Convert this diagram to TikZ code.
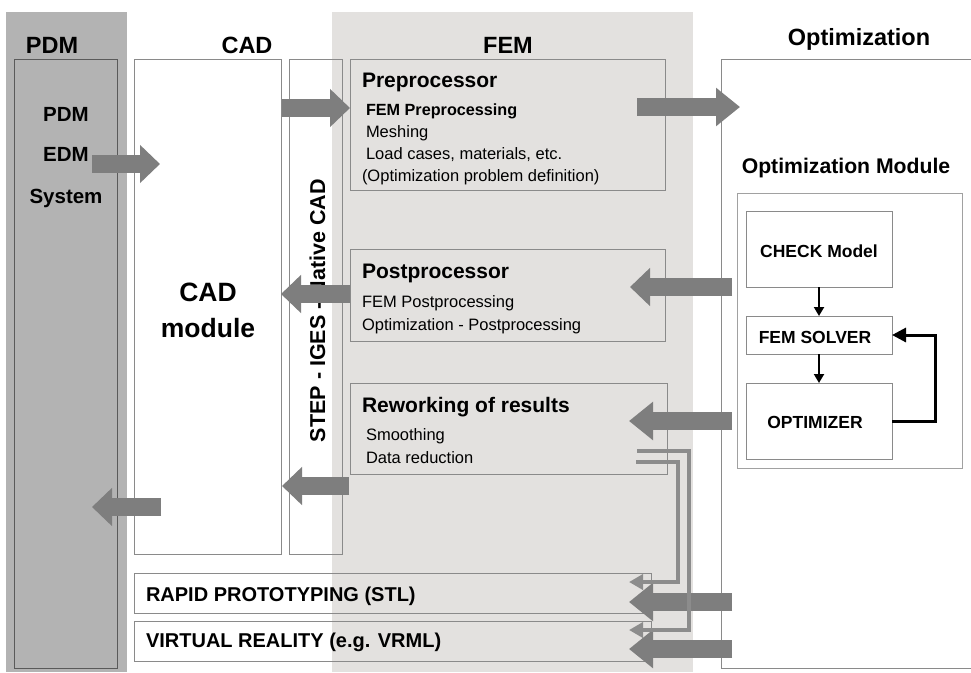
\documentclass[tikz,border=0pt]{standalone}
\usepackage{fontspec}
\setmainfont{Liberation Sans}
\usetikzlibrary{arrows.meta}
\definecolor{pdmgray}{HTML}{B3B3B3}
\definecolor{femgray}{HTML}{E3E1DF}
\definecolor{arrowgray}{HTML}{7E7E7E}
\definecolor{thingray}{HTML}{8C8C8C}
\definecolor{boxline}{HTML}{8A8A8A}
\definecolor{pdmline}{HTML}{5A5A5A}
\newcommand{\fsz}[1]{\fontsize{#1}{#1}\selectfont}
\begin{document}
\begin{tikzpicture}[x=1pt,y=-1pt,
  box/.style={draw=boxline, line width=1pt, inner sep=0pt, outer sep=0pt, anchor=north west},
  fat/.style={draw=arrowgray, line width=18pt, -{Triangle[length=20pt,width=37pt]}},
  fatlong/.style={draw=arrowgray, line width=18pt, -{Triangle[length=24pt,width=37pt]}},
  thinarrow/.style={draw=thingray, line width=4pt, line join=miter, -{Triangle[length=14pt,width=15pt]}},
  blk/.style={draw=black, line width=2pt, -{Triangle[length=9pt,width=10pt]}},
  fbk/.style={draw=black, line width=3pt, line join=miter, -{Triangle[length=14pt,width=14pt]}},
  txt/.style={inner sep=0pt, outer sep=0pt, anchor=base west},
  ctxt/.style={inner sep=0pt, outer sep=0pt, anchor=base},
  title/.style={ctxt, font=\fsz{23.5}\bfseries},
  sect/.style={txt, font=\fsz{21}\bfseries},
  sub/.style={txt, font=\fsz{16.5}},
  optb/.style={ctxt, font=\fsz{17.5}\bfseries}]
\useasboundingbox (0,0) rectangle (971,672);
\fill[white] (0,0) rectangle (971,672);
% bands
\fill[pdmgray] (6,12) rectangle (127,672);
\fill[femgray] (332,12) rectangle (693,672);
% boxes
\node[box, draw=pdmline, minimum width=103pt, minimum height=609pt] (pdmin) at (14,59) {};
\node[box, minimum width=147pt, minimum height=495pt] (cad) at (134,59) {};
\node[box, minimum width=53pt, minimum height=495pt] (step) at (289,59) {};
\node[box, minimum width=315pt, minimum height=131pt] (pre) at (350,59) {};
\node[box, minimum width=315pt, minimum height=92pt] (post) at (350,249) {};
\node[box, minimum width=317pt, minimum height=91pt] (rew) at (350,383) {};
\node[box, minimum width=517pt, minimum height=40pt] (rp) at (134,573) {};
\node[box, minimum width=517pt, minimum height=40pt] (vr) at (134,621) {};
\node[box, minimum width=270pt, minimum height=609pt] (opt) at (721,59) {};
\node[box, draw=boxline!80, minimum width=225pt, minimum height=275pt] (mod) at (737,193) {};
\node[box, fill=white, minimum width=146pt, minimum height=76pt] (check) at (746,211) {};
\node[box, fill=white, minimum width=146pt, minimum height=38pt] (solver) at (746,316) {};
\node[box, fill=white, minimum width=146pt, minimum height=76pt] (optim) at (746,383) {};
% titles
\node[title] (tpdm) at (52,53) {PDM};
\node[title] (tcad) at (247,53) {CAD};
\node[title] (tfem) at (508,53) {FEM};
\node[title] (topt) at (859,45) {Optimization};
% PDM texts
\node[ctxt, font=\fsz{20.5}\bfseries] (p1) at (66,121) {PDM};
\node[ctxt, font=\fsz{20.5}\bfseries] (p2) at (66,161) {EDM};
\node[ctxt, font=\fsz{20.5}\bfseries] (p3) at (66,203) {System};
% CAD module
\node[ctxt, font=\fsz{26.5}\bfseries] (c1) at (208,301) {CAD};
\node[ctxt, font=\fsz{26.5}\bfseries] (c2) at (208,337) {module};
\node[inner sep=0pt, outer sep=0pt, anchor=base west, rotate=90, font=\fsz{21.5}\bfseries] (steptxt) at (325,442) {STEP - IGES - Native CAD};
% FEM texts
\node[sect] (t1) at (362,87) {Preprocessor};
\node[txt, font=\fsz{16.2}\bfseries] (t2) at (366,115) {FEM Preprocessing};
\node[sub] (t3) at (366,137) {Meshing};
\node[sub] (t4) at (366,159) {Load cases, materials, etc.};
\node[sub] (t5) at (362,181) {(Optimization problem definition)};
\node[sect] (t6) at (362,278) {Postprocessor};
\node[sub] (t7) at (362,307) {FEM Postprocessing};
\node[sub] (t8) at (362,330) {Optimization - Postprocessing};
\node[sect] (t9) at (362,412) {Reworking of results};
\node[sub] (t10) at (366,440) {Smoothing};
\node[sub] (t11) at (366,463) {Data reduction};
% Optimization texts
\node[ctxt, font=\fsz{21.2}\bfseries] (tmod) at (846,173) {Optimization Module};
\node[optb] (o1) at (819,257) {CHECK Model};
\node[optb] (o2) at (815,343) {FEM SOLVER};
\node[optb] (o3) at (815,428) {OPTIMIZER};
% bottom boxes
\node[txt, font=\fsz{20}\bfseries] (r1) at (146,601) {RAPID PROTOTYPING (STL)};
\node[txt, font=\fsz{20}\bfseries] (r2) at (146,647) {VIRTUAL REALITY (e.g. VRML)};
% coordinates for fat arrows
\coordinate (a1s) at (92,164);  \coordinate (a1e) at (160,164);
\coordinate (a2s) at (282,108); \coordinate (a2e) at (350,108);
\coordinate (a3s) at (637,107); \coordinate (a3e) at (740,107);
\coordinate (a4s) at (732,287); \coordinate (a4e) at (630,287);
\coordinate (a5s) at (350,294); \coordinate (a5e) at (281,294);
\coordinate (a6s) at (732,421); \coordinate (a6e) at (629,421);
\coordinate (a7s) at (349,486); \coordinate (a7e) at (282,486);
\coordinate (a8s) at (161,507); \coordinate (a8e) at (92,507);
\coordinate (a9s) at (732,602); \coordinate (a9e) at (629,602);
\coordinate (a10s) at (732,649); \coordinate (a10e) at (629,649);
\draw[fat] (a1s) -- (a1e);
\draw[fat] (a2s) -- (a2e);
\draw[fatlong] (a3s) -- (a3e);
\draw[fat] (a4s) -- (a4e);
\draw[fat] (a5s) -- (a5e);
\draw[fatlong] (a6s) -- (a6e);
\draw[fat] (a7s) -- (a7e);
\draw[fat] (a8s) -- (a8e);
\draw[fatlong] (a9s) -- (a9e);
\draw[fatlong] (a10s) -- (a10e);
% thin double connectors
\coordinate (b1s) at (637,451); \coordinate (b1e) at (629,630);
\coordinate (b2s) at (636,462); \coordinate (b2e) at (629,582);
\draw[thinarrow] (b1s) -- (689,451) -- (689,630) -- (b1e);
\draw[thinarrow] (b2s) -- (678,462) -- (678,582) -- (b2e);
% black arrows
\draw[blk] (check.south) -- (solver.north);
\draw[blk] (solver.south) -- (optim.north);
\draw[fbk] (optim.east) -- ++(43,0) |- (solver.east);
\end{tikzpicture}
\end{document}
